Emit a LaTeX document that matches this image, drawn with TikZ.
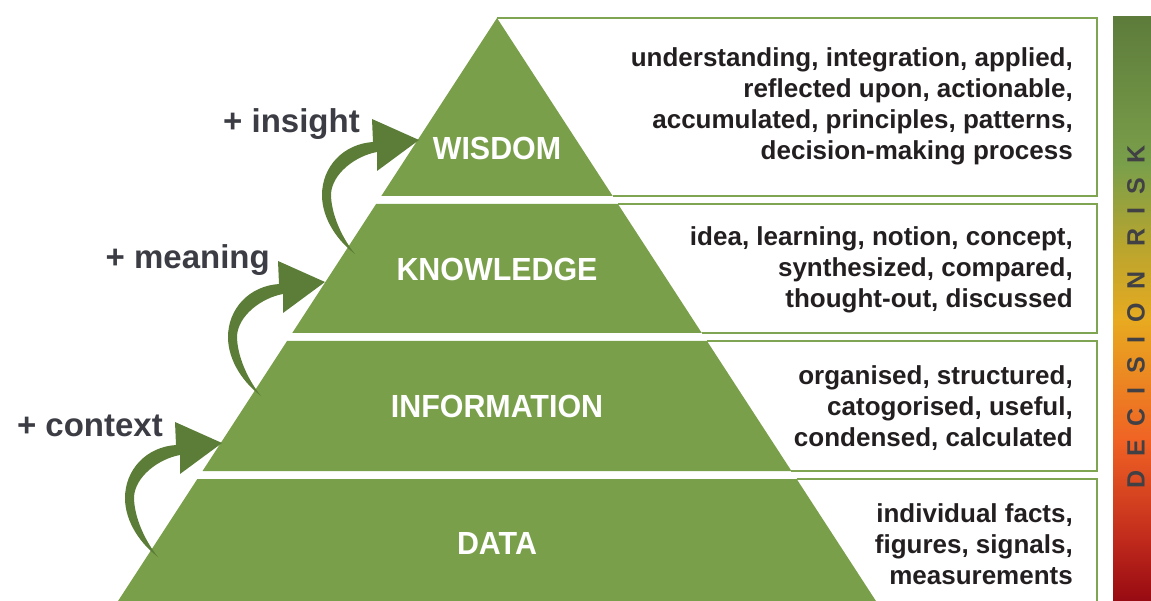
\documentclass[tikz,border=0pt]{standalone}
\usepackage{fontspec}
\setmainfont{Liberation Sans}
\newfontfamily\tierfont[FakeStretch=0.95]{Liberation Sans}
\newfontfamily\riskfont[LetterSpace=55]{Liberation Sans}
\definecolor{tiergreen}{HTML}{7A9F4A}
\definecolor{arrowgreen}{HTML}{5B7D37}
\definecolor{boxgreen}{HTML}{7FA552}
\definecolor{desctext}{HTML}{231F20}
\definecolor{gaintext}{HTML}{3C3D44}
\definecolor{risktext}{HTML}{404045}
\definecolor{riskA}{HTML}{5D7C3B}
\definecolor{riskB}{HTML}{B8A52E}
\definecolor{riskC}{HTML}{E8AA20}
\definecolor{riskD}{HTML}{F06224}
\definecolor{riskE}{HTML}{C02A1C}
\definecolor{riskF}{HTML}{970A12}

\begin{document}
\begin{tikzpicture}[x=1pt,y=-1pt,
  tier/.style={fill=tiergreen},
  tiername/.style={text=white,inner sep=0pt,font=\tierfont\bfseries\fontsize{32}{32}\selectfont},
  descbox/.style={draw=boxgreen,line width=2.5pt},
  desc/.style={anchor=east,align=right,inner sep=0pt,text=desctext,font=\bfseries\fontsize{26}{31}\selectfont},
  gainlabel/.style={anchor=base east,inner sep=0pt,text=gaintext,font=\bfseries\fontsize{33}{33}\selectfont},
  risk/.style={rotate=90,inner sep=0pt,text=risktext,font=\riskfont\bfseries\fontsize{25}{25}\selectfont},
  gain/.pic={\fill[arrowgreen] (0,0) -- (-47,-21) -- (-46,2)
      .. controls (-76,4) and (-97,27) .. (-97,55)
      .. controls (-97,80) and (-80,102) .. (-64,114)
      .. controls (-77,98) and (-88,74) .. (-88,54)
      .. controls (-87,34) and (-64,16) .. (-42,12) -- (-42,31) -- cycle;}]
\useasboundingbox (0,0) rectangle (1151,601);

% description boxes: top, right and bottom sides only
\foreach \ytop/\ybot in {18/196,204/333,341/471,479/612}
  \draw[descbox] ({497+0.65*(\ytop-18)},\ytop) -- (1097,\ytop) -- (1097,\ybot) -- ({497+0.65*(\ybot-18)},\ybot);

% pyramid tiers
\foreach \ytop/\ybot in {18/196,204/333,341/471,479/601}
  \fill[tier] ({497-0.65*(\ytop-18)},\ytop) -- ({497+0.65*(\ytop-18)},\ytop)
    -- ({497+0.65*(\ybot-18)},\ybot) -- ({497-0.65*(\ybot-18)},\ybot) -- cycle;

\node[tiername] (wisdom)      at (497,148) {WISDOM};
\node[tiername] (knowledge)   at (497,269) {KNOWLEDGE};
\node[tiername] (information) at (497,406) {INFORMATION};
\node[tiername] (data)        at (497,543) {DATA};

\node[desc] (wisdomdesc) at (1073,106) {understanding, integration, applied,\\reflected upon, actionable,\\accumulated, principles, patterns,\\decision-making process};
\node[desc] (knowledgedesc) at (1073,270) {idea, learning, notion, concept,\\synthesized, compared,\\thought-out, discussed};
\node[desc] (informationdesc) at (1073,408) {organised, structured,\\catogorised, useful,\\condensed, calculated};
\node[desc] (datadesc) at (1073,544) {individual facts,\\figures, signals,\\measurements};

% arrows up the left side
\coordinate (insighttip) at (419,140);
\coordinate (meaningtip) at (325,282);
\coordinate (contexttip) at (222,443);
\pic at (insighttip) {gain};
\pic at (meaningtip) {gain};
\pic at (contexttip) {gain};
\node[gainlabel] (insight) at (360,133) {+ insight};
\node[gainlabel] (meaning) at (270,269) {+ meaning};
\node[gainlabel] (context) at (163,436) {+ context};

% risk bar
\shade[top color=riskA,bottom color=tiergreen] (1113,17) rectangle (1151,166);
\shade[top color=tiergreen,bottom color=riskB] (1113,165) rectangle (1151,246);
\shade[top color=riskB,bottom color=riskC] (1113,245) rectangle (1151,321);
\shade[top color=riskC,bottom color=riskD] (1113,320) rectangle (1151,441);
\shade[top color=riskD,bottom color=riskE] (1113,440) rectangle (1151,541);
\shade[top color=riskE,bottom color=riskF] (1113,540) rectangle (1151,601);
\node[risk] (risk) at (1136,317) {DECISION\hspace{4pt} RISK};
\end{tikzpicture}
\end{document}
